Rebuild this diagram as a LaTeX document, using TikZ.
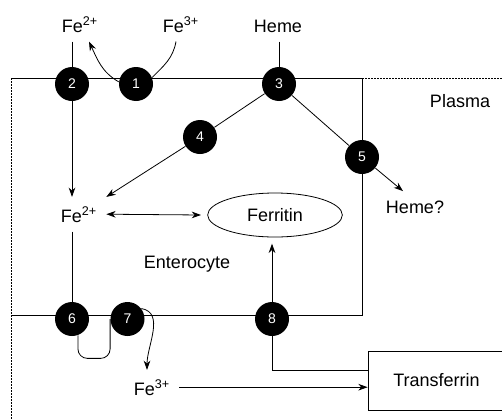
\documentclass[tikz,border=0pt]{standalone}
\usepackage{fontspec}
\setmainfont{Liberation Sans}
\usepackage{tikz}
\usetikzlibrary{shapes,arrows.meta,positioning,calc}

\tikzset{
  site/.style={circle,fill=black,text=white,inner sep=0pt,minimum size=25.5pt,font=\fontsize{10.5}{12}\selectfont},
  lbl/.style={anchor=base,inner sep=4pt,outer sep=3pt,font=\fontsize{13.5}{16}\selectfont},
  flow/.style={-{Stealth[length=7pt,width=5pt]}},
  membrane/.style={dash pattern=on 1.5pt off 0.75pt},
}

\begin{document}
\begin{tikzpicture}[x=0.75pt,y=0.75pt,line width=0.6pt]
    \useasboundingbox (0,0) rectangle (502,419);
    % cell outline
    \draw (11,341) -- (362,341) -- (362,104) -- (11,104);
    \draw[membrane] (362,341) -- (502,341); % apical side
    \draw[membrane] (11,341) -- (11,0);      % basolateral side

    % labels
    \node[lbl] (fetwo) at (80,387) {Fe\textsuperscript{2+}};
    \node[lbl] (fethree) at (181,387) {Fe\textsuperscript{3+}};
    \node[lbl] (heme) at (278,387) {Heme};
    \node[lbl] (plasma) at (460,312) {Plasma};
    \node[lbl] (fecell) at (79,197) {Fe\textsuperscript{2+}};
    \node[lbl] (enterocyte) at (187,151) {Enterocyte};
    \node[lbl] (hemeq) at (415,206) {Heme?};
    \node[lbl] (feout) at (152,24) {Fe\textsuperscript{3+}};
    \node[draw,ellipse,minimum width=101pt,minimum height=33pt,inner sep=0pt,outer sep=5pt,
          font=\fontsize{13.5}{16}\selectfont] (ferritin) at (275,204) {Ferritin};
    \node[draw,minimum width=102.75pt,minimum height=44.25pt,inner sep=0pt,
          font=\fontsize{13.5}{16}\selectfont] (transferrin) at (436.5,38.5) {Transferrin};

    % transport sites
    \node[site] (s1) at (136,335) {1};
    \node[site] (s2) at (72,335) {2};
    \node[site] (s3) at (279,335) {3};
    \node[site] (s4) at (200,282) {4};
    \node[site] (s5) at (362,262) {5};
    \node[site] (s6) at (72,100) {6};
    \node[site] (s7) at (127.5,100) {7};
    \node[site] (s8) at (272,100) {8};

    % uptake
    \draw (fetwo.south -| s2) -- (s2);
    \draw[flow] (s2) -- (fecell.north -| s2);
    \draw ([xshift=-3.75pt]fethree.south) to[out=-100,in=45] (s1.22);
    \draw[flow] (s1.173) to[out=150,in=-65] ([xshift=6.75pt]fetwo.south);
    \draw (heme.south -| s3) -- (s3);
    \draw (s3) -- (s4);
    \draw[flow] (s4) -- (fecell.north east);
    \draw (s3) -- (s5);
    \draw[flow] (s5) -- ([xshift=-9pt]hemeq.north);
    \draw[{Stealth[length=7pt,width=5pt]}-{Stealth[length=7pt,width=5pt]}] (fecell.east) -- (ferritin.west);

    % export
    \draw (fecell.south -| s6) -- (s6);
    \draw[rounded corners=7pt] (s6.-70) -- ++(0,-23) -| (s7.west);
    \draw[flow] (s7.37) to[out=-10,in=90] ([xshift=-3.75pt]feout.north);
    \draw[flow] (feout.east) -- (feout.east -| transferrin.west);
    \draw (s8) |- ([yshift=7.9pt]transferrin.west);
    \draw[flow] (s8) -- (s8 |- ferritin.south);
\end{tikzpicture}
\end{document}
